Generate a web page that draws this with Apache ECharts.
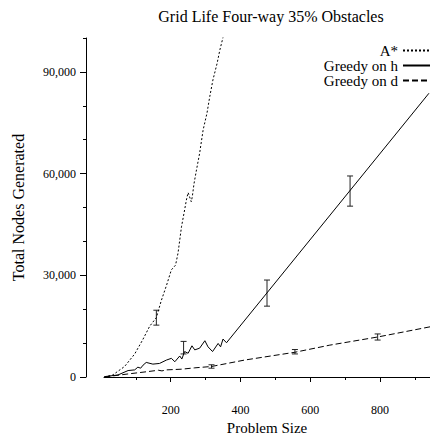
<!DOCTYPE html>
<html>
<head>
<meta charset="utf-8">
<script src="https://cdn.jsdelivr.net/npm/echarts@6/dist/echarts.min.js"></script>
<style>
  html, body { margin: 0; padding: 0; background: #fff; }
  #chart { width: 430px; height: 436px; }
</style>
</head>
<body>
<div id="chart"></div>
<script>
// problem size / total nodes
const aStarSize = [10, 34, 68, 97, 120, 140, 159, 173, 188, 202, 214, 221, 226, 231, 240, 245, 250, 259, 262, 267, 274, 283, 293, 304, 312, 321, 333, 341, 352]
const aStarNodes = [0, 600, 3100, 6800, 11000, 15000, 17500, 22500, 27000, 31600, 33000, 36500, 40400, 44300, 49300, 52200, 54400, 51700, 53200, 57100, 61100, 66000, 72900, 77800, 82700, 87600, 92500, 96500, 101000]

const greedyHSize = [10, 49, 78, 97, 106, 114, 121, 130, 149, 168, 188, 202, 212, 226, 232, 240, 250, 261, 269, 283, 298, 307, 320, 336, 343, 350, 360, 940]
const greedyHNodes = [100, 600, 1900, 2100, 2900, 2600, 3500, 4300, 3800, 4000, 5000, 5500, 4500, 6200, 5300, 7500, 7000, 9200, 8000, 8500, 10700, 8900, 7500, 9900, 8900, 11200, 10100, 83700]

const greedyDSize = [10, 78, 135, 165, 175, 188, 231, 269, 317, 412, 556, 656, 793, 943]
const greedyDNodes = [0, 900, 1600, 2000, 1800, 2100, 2300, 2700, 3100, 5000, 7300, 9400, 11800, 14800]

// error bars: [size, low, high]
const aStarErr = [[159, 15300, 19700]]
const greedyHErr = [[237, 6800, 10500], [476, 20900, 28600], [714, 50400, 59300]]
const greedyDErr = [[317, 2600, 3600], [556, 6800, 8100], [793, 10900, 12700]]

const xMajor = [200, 400, 600, 800]
const xMinor = [100, 300, 500, 700, 900]
const yMajor = [0, 30000, 60000, 90000]
const yMinor = [10000, 20000, 40000, 50000, 70000, 80000, 100000]

const FONT = "'Liberation Serif', serif"
const INK = '#000'

const zip = (xs, ys) => xs.map((x, i) => [x, ys[i]])

function errSeries (data) {
  return {
    type: 'custom',
    silent: true,
    z: 3,
    renderItem: (params, api) => {
      const top = api.coord([api.value(0), api.value(2)])
      const bot = api.coord([api.value(0), api.value(1)])
      const w = 3
      const style = { stroke: '#222', lineWidth: 1 }
      return {
        type: 'group',
        children: [
          { type: 'line', shape: { x1: top[0], y1: top[1], x2: bot[0], y2: bot[1] }, style },
          { type: 'line', shape: { x1: top[0] - w, y1: top[1], x2: top[0] + w, y2: top[1] }, style },
          { type: 'line', shape: { x1: bot[0] - w, y1: bot[1], x2: bot[0] + w, y2: bot[1] }, style }
        ]
      }
    },
    data: data
  }
}

function lineSeries (name, data, type) {
  return {
    name: name,
    type: 'line',
    symbol: 'none',
    showSymbol: false,
    clip: true,
    lineStyle: { color: INK, width: 1, type: type },
    itemStyle: { color: INK },
    data: data
  }
}

const chart = echarts.init(document.getElementById('chart'), null, { renderer: 'svg' })
chart.setOption({
  animation: false,
  backgroundColor: '#fff',
  title: {
    text: 'Grid Life Four-way 35% Obstacles',
    left: 266,
    top: 3,
    textAlign: 'center',
    textStyle: { fontFamily: FONT, fontSize: 16, fontWeight: 'normal', color: INK }
  },
  legend: {
    data: ['A*', 'Greedy on h', 'Greedy on d'],
    orient: 'vertical',
    right: -2,
    top: 43,
    align: 'right',
    padding: 0,
    itemGap: 0,
    itemWidth: 28,
    itemHeight: 10,
    itemStyle: { opacity: 0 },
    textStyle: { fontFamily: FONT, fontSize: 15, color: INK }
  },
  grid: { left: 104, right: 0, top: 38, bottom: 59, containLabel: false, outerBoundsMode: 'none' },
  xAxis: [{
    type: 'value',
    min: 9,
    max: 943,
    position: 'bottom',
    offset: 19,
    name: 'Problem Size',
    nameLocation: 'middle',
    nameGap: 19,
    nameTextStyle: { fontFamily: FONT, fontSize: 15, color: INK },
    axisLine: { show: true, lineStyle: { color: INK, width: 1 } },
    axisTick: { show: true, length: 5, customValues: xMajor, lineStyle: { color: INK } },
    axisLabel: { customValues: xMajor, margin: 8, fontFamily: FONT, fontSize: 12, color: INK },
    splitLine: { show: false }
  }, {
    type: 'value',
    min: 9,
    max: 943,
    position: 'bottom',
    offset: 19,
    axisLine: { show: false },
    axisTick: { show: true, length: 3, customValues: xMinor, lineStyle: { color: INK } },
    axisLabel: { show: false },
    splitLine: { show: false }
  }],
  yAxis: [{
    type: 'value',
    min: 0,
    max: 100000,
    position: 'left',
    offset: 18,
    name: 'Total Nodes Generated',
    nameLocation: 'middle',
    nameRotate: 90,
    nameGap: 60,
    nameTextStyle: { fontFamily: FONT, fontSize: 16, color: INK },
    axisLine: { show: true, lineStyle: { color: INK, width: 1 } },
    axisTick: { show: true, length: 6, customValues: yMajor, lineStyle: { color: INK } },
    axisLabel: {
      customValues: yMajor,
      margin: 10,
      fontFamily: FONT,
      fontSize: 12,
      color: INK,
      formatter: v => v.toLocaleString('en-US')
    },
    splitLine: { show: false }
  }, {
    type: 'value',
    min: 0,
    max: 100000,
    position: 'left',
    offset: 18,
    axisLine: { show: false },
    axisTick: { show: true, length: 3, customValues: yMinor, lineStyle: { color: INK } },
    axisLabel: { show: false },
    splitLine: { show: false }
  }],
  series: [
    lineSeries('A*', zip(aStarSize, aStarNodes), [2, 2]),
    lineSeries('Greedy on h', zip(greedyHSize, greedyHNodes), 'solid'),
    lineSeries('Greedy on d', zip(greedyDSize, greedyDNodes), [6, 3]),
    errSeries(aStarErr),
    errSeries(greedyHErr),
    errSeries(greedyDErr)
  ]
})
</script>
</body>
</html>
